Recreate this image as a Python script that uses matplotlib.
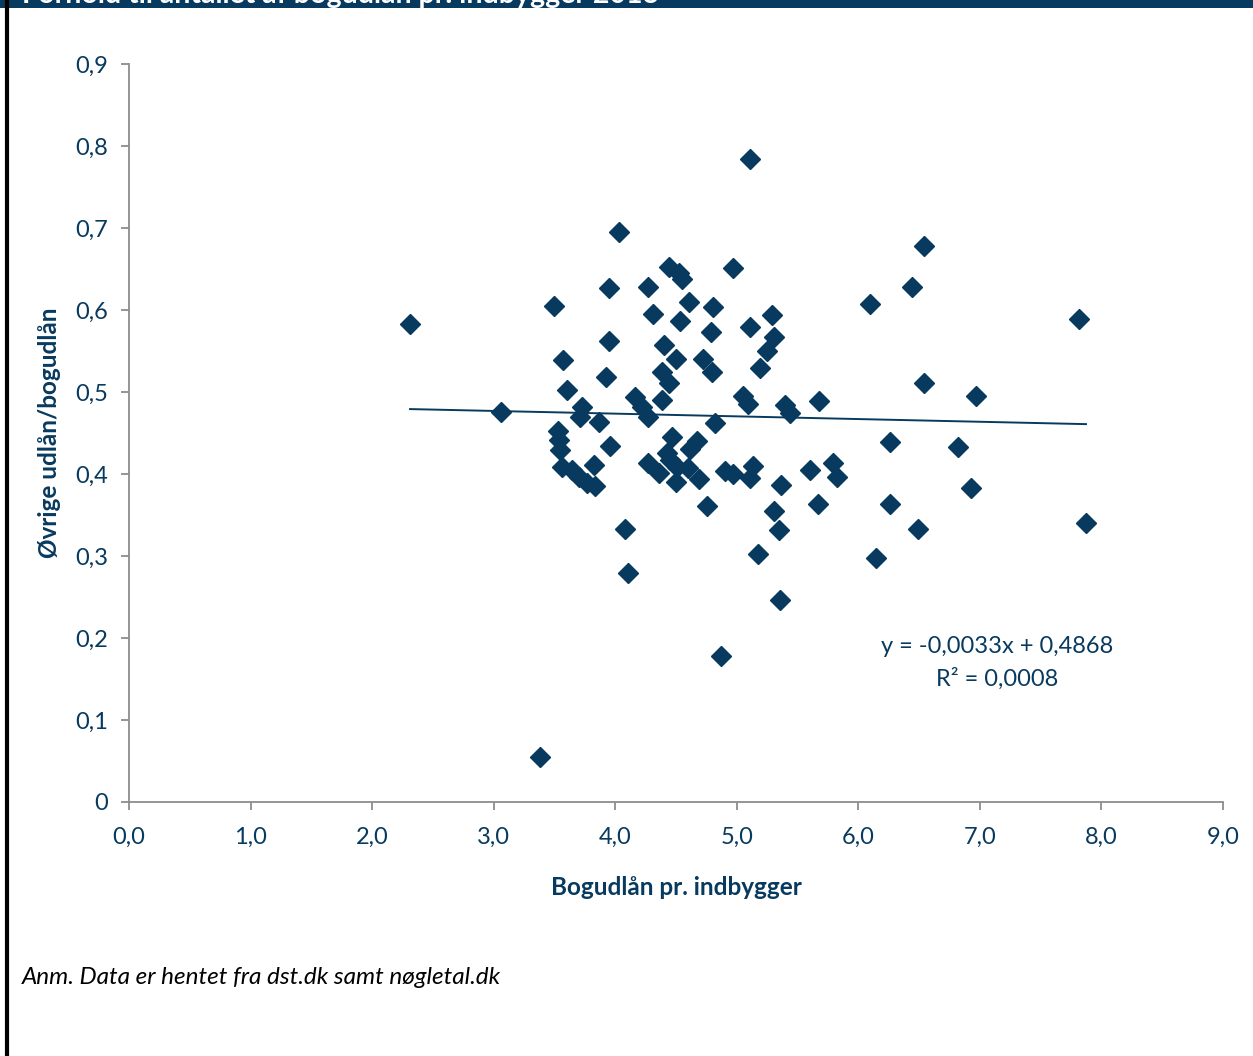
import numpy as np
import matplotlib
matplotlib.use("Agg")
import matplotlib.pyplot as plt

# Farver og skrift
NAVY = "#073a5e"
GRID_GRAY = "#8c8c8c"
plt.rcParams['font.family'] = ['Lato', 'DejaVu Sans']

# Data: bogudlån pr. indbygger (x) og øvrige udlån/bogudlån (y)
bogudlaan = [
    2.312, 3.060, 3.381, 3.496, 3.570, 3.603, 3.529, 3.537, 3.546, 3.562,
    3.644, 3.702, 3.768, 3.834, 3.825, 3.727, 3.710, 3.866, 3.924, 3.949,
    3.949, 3.957, 4.031, 4.080, 4.105, 4.163, 4.220, 4.270, 4.270, 4.270,
    4.311, 4.360, 4.385, 4.385, 4.401, 4.442, 4.442, 4.525, 4.549, 4.426,
    4.451, 4.508, 4.467, 4.500, 4.500, 4.533, 4.607, 4.599, 4.615, 4.673,
    4.689, 4.722, 4.796, 4.788, 4.804, 4.821, 4.755, 4.870, 4.903, 4.969,
    4.969, 5.051, 5.092, 5.109, 5.109, 5.133, 5.109, 5.174, 5.191, 5.248,
    5.290, 5.306, 5.306, 5.347, 5.364, 5.355, 5.397, 5.438, 5.602, 5.676,
    5.668, 5.791, 5.824, 6.096, 6.145, 6.260, 6.260, 6.441, 6.491, 6.540,
    6.540, 6.820, 6.927, 6.968, 7.815, 7.873,
]
oevrige = [
    0.583, 0.476, 0.055, 0.605, 0.539, 0.502, 0.452, 0.441, 0.429, 0.409,
    0.405, 0.396, 0.389, 0.385, 0.411, 0.482, 0.470, 0.463, 0.518, 0.562,
    0.627, 0.434, 0.695, 0.333, 0.279, 0.494, 0.482, 0.470, 0.413, 0.628,
    0.595, 0.401, 0.490, 0.524, 0.557, 0.511, 0.652, 0.645, 0.638, 0.426,
    0.417, 0.409, 0.445, 0.390, 0.540, 0.587, 0.610, 0.407, 0.430, 0.440,
    0.394, 0.540, 0.524, 0.573, 0.604, 0.462, 0.361, 0.178, 0.404, 0.400,
    0.651, 0.495, 0.485, 0.784, 0.579, 0.410, 0.395, 0.302, 0.529, 0.550,
    0.594, 0.567, 0.355, 0.332, 0.387, 0.246, 0.484, 0.474, 0.405, 0.489,
    0.363, 0.413, 0.396, 0.607, 0.298, 0.439, 0.363, 0.628, 0.333, 0.678,
    0.511, 0.433, 0.383, 0.495, 0.589, 0.340,
]

# Lineær trendlinje som angivet i figuren
haeldning = -0.0033
skaering = 0.4868

x_ticks = np.arange(0, 9.5, 1.0)
x_labels = ["0,0", "1,0", "2,0", "3,0", "4,0", "5,0", "6,0", "7,0", "8,0", "9,0"]
y_ticks = np.arange(0, 0.95, 0.1)
y_labels = ["0", "0,1", "0,2", "0,3", "0,4", "0,5", "0,6", "0,7", "0,8", "0,9"]

fig = plt.figure(figsize=(12.53, 10.56), dpi=100)
ax = fig.add_axes([129 / 1253, 1 - 802 / 1056, (1223 - 129) / 1253, (802 - 64) / 1056])

ax.plot(bogudlaan, oevrige, linestyle="none", marker="D", markersize=10.5,
        color=NAVY, zorder=3)

xs = np.array([min(bogudlaan), max(bogudlaan)])
ax.plot(xs, haeldning * xs + skaering, color=NAVY, linewidth=1.4, zorder=2)

ax.set_xlim(0, 9)
ax.set_ylim(0, 0.9)
ax.set_xticks(x_ticks)
ax.set_xticklabels(x_labels)
ax.set_yticks(y_ticks)
ax.set_yticklabels(y_labels)

for side in ["top", "right"]:
    ax.spines[side].set_visible(False)
for side in ["left", "bottom"]:
    ax.spines[side].set_color(GRID_GRAY)
    ax.spines[side].set_linewidth(1.3)
ax.tick_params(axis="both", direction="out", length=6, width=1.3, color=GRID_GRAY,
               labelcolor=NAVY, labelsize=17)
ax.tick_params(axis="x", pad=12)
ax.tick_params(axis="y", pad=9)

ax.set_xlabel("Bogudlån pr. indbygger", fontsize=17.5, fontweight="bold", color=NAVY, labelpad=20)
ax.set_ylabel("Øvrige udlån/bogudlån", fontsize=17.5, fontweight="bold", color=NAVY, labelpad=10)

ax.text(7.14, 0.190, "y = -0,0033x + 0,4868", fontsize=17, color=NAVY, ha="center", va="center")
ax.text(7.14, 0.150, "R² = 0,0008", fontsize=17, color=NAVY, ha="center", va="center")

# Titellinje (beskåret øverst) og venstre ramme
fig.patches.append(plt.Rectangle((0, 1 - 8 / 1056), 1, 8 / 1056, transform=fig.transFigure,
                                 facecolor=NAVY, edgecolor="none", zorder=0))
fig.text(22 / 1253, 1 - 3 / 1056, "Forhold til antallet af bogudlån pr. indbygger 2013",
         fontsize=20.5, fontweight="bold", color="white", ha="left", va="baseline")
fig.add_artist(plt.Line2D([7 / 1253, 7 / 1253], [0, 1], transform=fig.transFigure,
                          color="black", linewidth=3))

fig.text(22 / 1253, 1 - 977 / 1056, "Anm. Data er hentet fra dst.dk samt nøgletal.dk",
         fontsize=17.5, style="italic", color="black", ha="left", va="center")

fig.savefig("out.png", dpi=100)
